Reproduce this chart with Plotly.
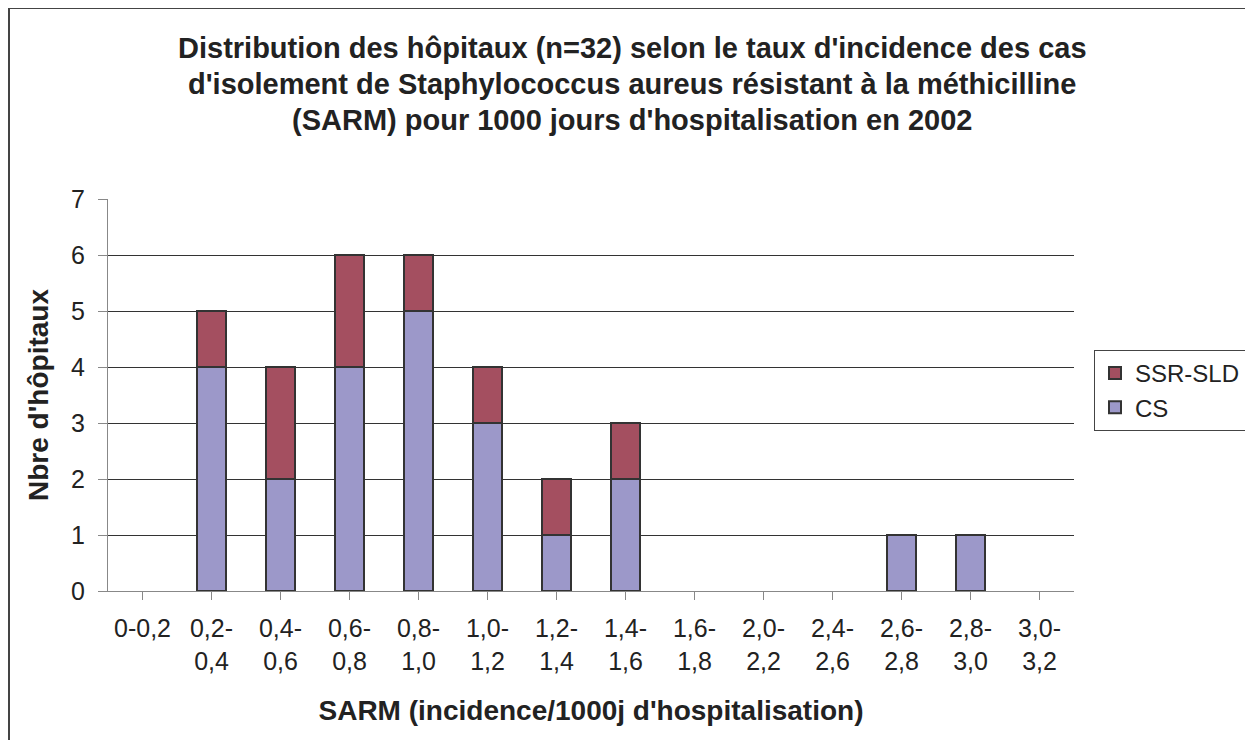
import plotly.graph_objects as go

categories = ["0-0,2", "0,2-0,4", "0,4-0,6", "0,6-0,8", "0,8-1,0", "1,0-1,2", "1,2-1,4",
              "1,4-1,6", "1,6-1,8", "2,0-2,2", "2,4-2,6", "2,6-2,8", "2,8-3,0", "3,0-3,2"]
cs = [0, 4, 2, 4, 5, 3, 1, 2, 0, 0, 0, 1, 1, 0]
ssr_sld = [0, 1, 2, 2, 1, 1, 1, 1, 0, 0, 0, 0, 0, 0]
y_ticks = [0, 1, 2, 3, 4, 5, 6, 7]
title_lines = ["Distribution des hôpitaux (n=32) selon le taux d'incidence des cas",
               "d'isolement de Staphylococcus aureus résistant à la méthicilline",
               "(SARM) pour 1000 jours d'hospitalisation en 2002"]

tick_text = [c if c == "0-0,2" else c.replace("-", "-<br>", 1) for c in categories]

FONT = "Liberation Sans, Arial, sans-serif"
OFF = 7  # page body margin offset
W, H = 1253 - 8, 740 - 8
ML = 107 - OFF
PR = 1073 - OFF
PT = 198 - OFF
PB = 590 - OFF
MR, MT, MB = W - PR, PT, H - PB
PW, PH = PR - ML, PB - PT


def px(x):
    return (x - OFF - ML) / PW


def py(y):
    return (PB - (y - OFF)) / PH


fig = go.Figure()
fig.add_trace(go.Bar(x=categories, y=[v if v else None for v in cs], name="CS",
                     marker=dict(color="#9c98c9", line=dict(color="#333333", width=2))))
fig.add_trace(go.Bar(x=categories, y=[v if v else None for v in ssr_sld], name="SSR-SLD",
                     marker=dict(color="#a44f60", line=dict(color="#333333", width=2))))

for i, line in enumerate(title_lines):
    fig.add_annotation(text="<b>%s</b>" % line, xref="paper", yref="paper",
                       x=px(631), y=py(47 + 36 * i),
                       showarrow=False, xanchor="center", yanchor="middle",
                       font=dict(family=FONT, size=29, color="#222222"))

# outer chart frame
fig.add_shape(type="rect", xref="paper", yref="paper",
              x0=px(8), x1=px(1251), y0=py(800), y1=py(7),
              line=dict(color="#444444", width=2), fillcolor="rgba(0,0,0,0)", layer="below")

fig.update_layout(
    width=W, height=H,
    margin=dict(l=ML, r=MR, t=MT, b=MB, autoexpand=False),
    barmode="stack", bargap=0.59,
    paper_bgcolor="white", plot_bgcolor="white",
    font=dict(family=FONT, size=25, color="#222222"),
    showlegend=True,
    legend=dict(x=px(1093), y=py(349), xanchor="left", yanchor="top",
                traceorder="reversed", bordercolor="#444444", borderwidth=1,
                font=dict(family=FONT, size=24, color="#222222"), itemwidth=30,
                tracegroupgap=0, bgcolor="white"),
    xaxis=dict(type="category", tickmode="array", tickvals=categories, ticktext=tick_text,
               showline=True, linecolor="#888888", linewidth=1,
               ticks="outside", ticklen=8, tickcolor="#888888", ticklabelstandoff=7,
               title=dict(text="<b>SARM (incidence/1000j d'hospitalisation)</b>",
                          font=dict(family=FONT, size=28, color="#222222"), standoff=26),
               tickfont=dict(family=FONT, size=25, color="#222222"), showgrid=False),
    yaxis=dict(range=[0, 7], tickvals=y_ticks, showline=True, linecolor="#888888", linewidth=1,
               ticks="outside", ticklen=9, tickcolor="#888888", ticklabelstandoff=8,
               showgrid=True, gridcolor="#333333", gridwidth=1, zeroline=False,
               title=dict(text="<b>Nbre d'hôpitaux</b>", font=dict(family=FONT, size=28, color="#222222"),
                          standoff=14),
               tickfont=dict(family=FONT, size=25, color="#222222")),
)

fig.write_html("out.html")
